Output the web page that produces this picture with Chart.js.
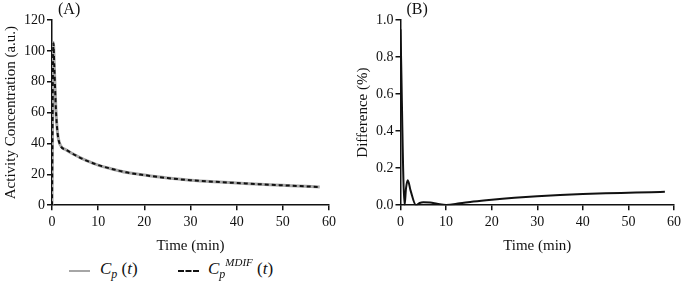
<!DOCTYPE html>
<html>
<head>
<meta charset="utf-8">
<script src="https://cdn.jsdelivr.net/npm/chart.js@4.4.1/dist/chart.umd.min.js"></script>
<style>
  body { margin: 0; background: #fff; font-family: "Liberation Serif", serif; }
  #wrap { position: relative; width: 685px; height: 284px; overflow: hidden; }
  #boxA { position: absolute; left: 0; top: 0; width: 340px; height: 257px; }
  #boxB { position: absolute; left: 340px; top: 0; width: 345px; height: 257px; }
  .leg { position: absolute; top: 259px; font-size: 17px; color: #111; font-style: italic; white-space: nowrap; }
  .leg .up { font-size: 11px; position: relative; top: -8px; }
  .leg .dn { font-size: 12px; position: relative; top: 4px; }
  .leg .n { font-style: normal; }
  .sw { position: absolute; top: 270px; width: 21px; height: 0; }
</style>
</head>
<body>
<div id="wrap">
  <div id="boxA"><canvas id="chartA"></canvas></div>
  <div id="boxB"><canvas id="chartB"></canvas></div>
  <div class="sw" style="left:69px; border-top: 2px solid #a6a6a6;"></div>
  <div class="leg" style="left:100px;">C<span class="dn">p</span> <span class="n">(</span>t<span class="n">)</span></div>
  <div class="sw" style="left:178px; border-top: 2px dashed #111;"></div>
  <div class="leg" style="left:208px;">C<span class="dn">p</span><span class="up">MDIF</span> <span class="n">(</span>t<span class="n">)</span></div>
</div>
<script>
// panel A: activity concentration curves
const timeA = [0, 0.3, 0.5, 0.85, 1.2, 1.8, 3, 5, 7, 10, 13, 16, 20, 25, 30, 35, 40, 45, 50, 55, 58];
const cp = [0, 105.5, 90, 62, 47, 39, 36, 32.5, 29.5, 26, 23.5, 21.3, 19.5, 17.6, 16.2, 15.2, 14.4, 13.6, 12.9, 12.2, 11.8];
const cpMdif = [0, 105, 89.6, 61.8, 46.9, 38.9, 36, 32.5, 29.5, 26, 23.5, 21.3, 19.5, 17.6, 16.2, 15.2, 14.4, 13.6, 12.9, 12.2, 11.8];

// panel B: difference in percent
const timeB = [0, 0.9, 1.2, 1.6, 2.2, 3.4, 4.2, 5, 6.5, 8, 10, 13, 16, 20, 25, 30, 35, 40, 45, 50, 55, 58];
const diff = [0.95, 0, 0.09, 0.135, 0.08, 0, 0.012, 0.016, 0.014, 0.008, 0.001, 0.01, 0.02, 0.03, 0.04, 0.048, 0.055, 0.06, 0.064, 0.067, 0.07, 0.072];

const fontFam = '"Liberation Serif", "Times New Roman", serif';
const ink = '#111';

function pts(xs, ys) {
    return xs.map((x, i) => ({ x: x, y: ys[i] }));
}

function panelLabel(text) {
    return {
        id: 'panelLabel',
        afterDraw(chart) {
            const ctx = chart.ctx;
            ctx.save();
            ctx.font = '16px ' + fontFam;
            ctx.fillStyle = ink;
            ctx.textBaseline = 'top';
            ctx.fillText(text, chart.chartArea.left + 6, 2);
            ctx.restore();
        }
    };
}

function axisOpts(min, max, step, title, fmt, pad) {
    return {
        type: 'linear',
        min: min,
        max: max,
        ticks: {
            stepSize: step,
            color: ink,
            font: { family: fontFam, size: 14 },
            padding: pad,
            callback: fmt
        },
        grid: {
            drawOnChartArea: false,
            drawTicks: true,
            tickLength: 5,
            color: ink,
            lineWidth: 1.5
        },
        border: { display: true, color: ink, width: 1.5 },
        title: {
            display: true,
            text: title,
            color: ink,
            font: { family: fontFam, size: 15 },
            padding: { top: 2, bottom: 2 }
        }
    };
}

const chartA = new Chart(document.getElementById('chartA'), {
    type: 'line',
    data: {
        datasets: [{
            label: 'Cp MDIF (t)',
            data: pts(timeA, cpMdif),
            borderColor: '#111',
            borderWidth: 2,
            borderDash: [4, 3],
            pointRadius: 0,
            cubicInterpolationMode: 'monotone'
        }, {
            label: 'Cp (t)',
            data: pts(timeA, cp),
            borderColor: '#a6a6a6',
            borderWidth: 3,
            pointRadius: 0,
            cubicInterpolationMode: 'monotone'
        }]
    },
    options: {
        responsive: true,
        maintainAspectRatio: false,
        animation: false,
        layout: { padding: { top: 20, right: 4, left: 0, bottom: 0 } },
        scales: {
            x: axisOpts(0, 60, 10, 'Time (min)', v => v, 4),
            y: axisOpts(0, 120, 20, 'Activity Concentration (a.u.)', v => v, 2)
        },
        plugins: {
            legend: { display: false },
            tooltip: { enabled: false }
        }
    },
    plugins: [panelLabel('(A)')]
});

const chartB = new Chart(document.getElementById('chartB'), {
    type: 'line',
    data: {
        datasets: [{
            label: 'Difference',
            data: pts(timeB, diff),
            borderColor: '#111',
            borderWidth: 2,
            pointRadius: 0,
            cubicInterpolationMode: 'monotone'
        }]
    },
    options: {
        responsive: true,
        maintainAspectRatio: false,
        animation: false,
        layout: { padding: { top: 20, right: -4, left: 12, bottom: 0 } },
        scales: {
            x: axisOpts(0, 60, 10, 'Time (min)', v => v, 4),
            y: axisOpts(0, 1, 0.2, 'Difference (%)', v => v.toFixed(1), 2)
        },
        plugins: {
            legend: { display: false },
            tooltip: { enabled: false }
        }
    },
    plugins: [panelLabel('(B)')]
});
</script>
</body>
</html>
